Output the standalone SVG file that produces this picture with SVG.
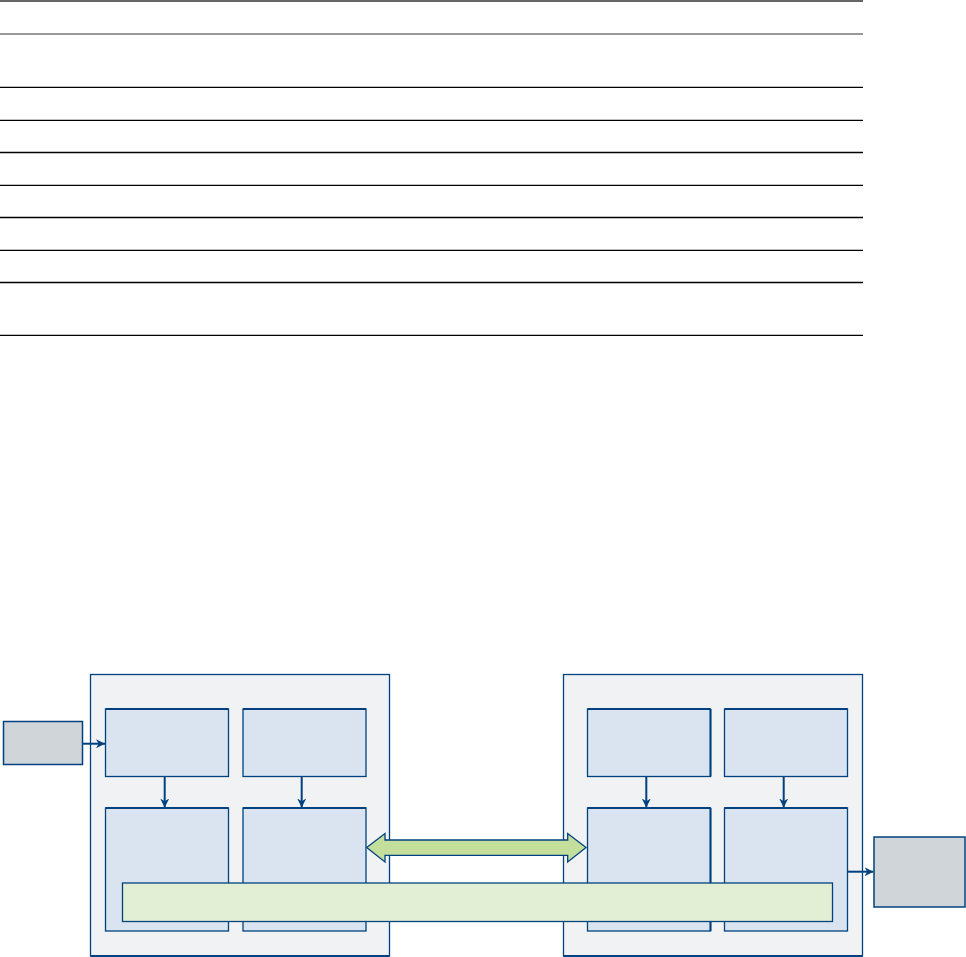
<svg xmlns="http://www.w3.org/2000/svg" width="966" height="957" viewBox="0 0 966 957">
<style>
.rule{stroke:#000;stroke-width:1.3}
.cont{fill:#f0f2f4;stroke:#00427f;stroke-width:1.3}
.inner{fill:#dae3f0;stroke:#00427f;stroke-width:1.3}
.gray{fill:#d0d5da;stroke:#00427f;stroke-width:1.5}
.bar{fill:#e3efd4;stroke:#00427f;stroke-width:1.3}
.conn{stroke:#00427f;stroke-width:2;fill:none}
</style>
<defs>
<marker id="ah" viewBox="0 0 10 10" refX="10" refY="5" markerWidth="9" markerHeight="9" orient="auto" markerUnits="userSpaceOnUse">
<path d="M0,0 L10,5 L0,10 L3,5 Z" fill="#00427f"/>
</marker>
</defs>
<rect width="966" height="957" fill="#fff"/>
<g id="table">
<line x1="0" y1="1" x2="863" y2="1" stroke="#666" stroke-width="2.2"/>
<line x1="0" y1="34" x2="863" y2="34" stroke="#777" stroke-width="1.3"/>
<line class="rule" x1="0" y1="87.3" x2="863" y2="87.3"/>
<line class="rule" x1="0" y1="120.3" x2="863" y2="120.3"/>
<line class="rule" x1="0" y1="152.5" x2="863" y2="152.5"/>
<line class="rule" x1="0" y1="185.3" x2="863" y2="185.3"/>
<line class="rule" x1="0" y1="217.5" x2="863" y2="217.5"/>
<line class="rule" x1="0" y1="250.3" x2="863" y2="250.3"/>
<line class="rule" x1="0" y1="282.5" x2="863" y2="282.5"/>
<line class="rule" x1="0" y1="335.3" x2="863" y2="335.3"/>
</g>
<g id="left-container">
<rect class="cont" x="90.5" y="674.5" width="299" height="281.5"/>
<line x1="90.5" y1="956" x2="389.5" y2="956" stroke="#00427f" stroke-width="2"/>
</g>
<g id="right-container">
<rect class="cont" x="563.5" y="674.5" width="299" height="281.5"/>
<line x1="563.5" y1="956" x2="862.5" y2="956" stroke="#00427f" stroke-width="2"/>
</g>
<g id="input">
<rect class="gray" x="3.5" y="721.5" width="79" height="43"/>
</g>
<g id="output">
<rect class="gray" x="874" y="837" width="91" height="70" stroke-width="2"/>
</g>
<g id="L-TL"><rect class="inner" x="105.5" y="709" width="123" height="67.5"/><line x1="105.5" y1="709" x2="228.5" y2="709" stroke="#00427f" stroke-width="2"/></g>
<g id="L-TR"><rect class="inner" x="243" y="709" width="123" height="67.5"/><line x1="243" y1="709" x2="366" y2="709" stroke="#00427f" stroke-width="2"/></g>
<g id="L-BL"><rect class="inner" x="105.5" y="808" width="123" height="123"/><line x1="105.5" y1="808" x2="228.5" y2="808" stroke="#00427f" stroke-width="2"/></g>
<g id="L-BR"><rect class="inner" x="243" y="808" width="123" height="123"/><line x1="243" y1="808" x2="366" y2="808" stroke="#00427f" stroke-width="2"/></g>
<g id="R-TL"><rect class="inner" x="587.5" y="709" width="123" height="67.5"/><line x1="587.5" y1="709" x2="710.5" y2="709" stroke="#00427f" stroke-width="2"/><line x1="710.5" y1="709" x2="710.5" y2="776.5" stroke="#00427f" stroke-width="2"/></g>
<g id="R-TR"><rect class="inner" x="724.5" y="709" width="123" height="67.5"/><line x1="724.5" y1="709" x2="847.5" y2="709" stroke="#00427f" stroke-width="2"/></g>
<g id="R-BL"><rect class="inner" x="587.5" y="808" width="123" height="123"/><line x1="587.5" y1="808" x2="710.5" y2="808" stroke="#00427f" stroke-width="2"/><line x1="710.5" y1="808" x2="710.5" y2="931" stroke="#00427f" stroke-width="2"/></g>
<g id="R-BR"><rect class="inner" x="724.5" y="808" width="123" height="123"/><line x1="724.5" y1="808" x2="847.5" y2="808" stroke="#00427f" stroke-width="2"/></g>
<g id="shared-bar">
<rect class="bar" x="122.5" y="883" width="710" height="38.5"/>
</g>
<g id="connectors">
<line class="conn" x1="82.5" y1="743.7" x2="105" y2="743.7" marker-end="url(#ah)"/>
<line class="conn" x1="164.7" y1="776.5" x2="164.7" y2="807.5" marker-end="url(#ah)"/>
<line class="conn" x1="301.7" y1="776.5" x2="301.7" y2="807.5" marker-end="url(#ah)"/>
<line class="conn" x1="646.3" y1="776.5" x2="646.3" y2="807.5" stroke-width="1.3" marker-end="url(#ah)"/>
<line class="conn" x1="783.7" y1="776.5" x2="783.7" y2="807.5" marker-end="url(#ah)"/>
<line class="conn" x1="847.5" y1="871.7" x2="873.5" y2="871.7" marker-end="url(#ah)"/>
<path d="M366.7,847.5 L385,833.5 L385,840 L567.7,840 L567.7,833.5 L586,847.5 L567.7,862 L567.7,855.3 L385,855.3 L385,862 Z" fill="#c4de9c" stroke="#00427f" stroke-width="1.3" stroke-linejoin="miter"/>
</g>
</svg>
